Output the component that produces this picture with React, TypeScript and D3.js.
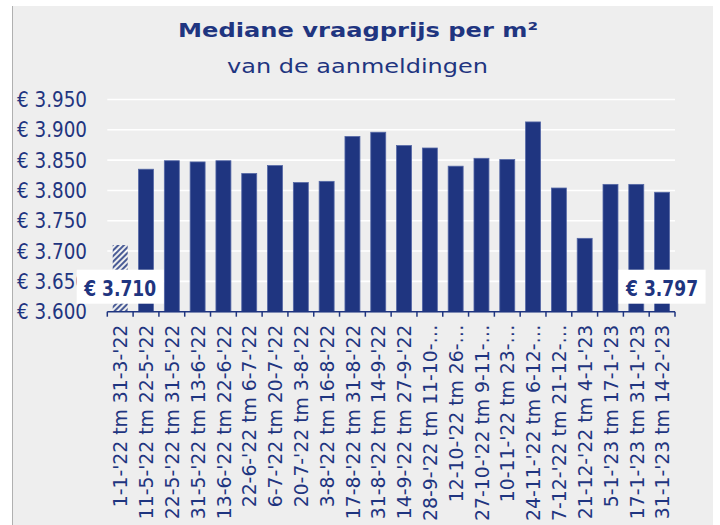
import * as d3 from 'd3';
import React from 'react';

// periodes (as-labels zoals in de grafiek, deels afgekapt)
const periods = [
  "1-1-'22 tm 31-3-'22",
  "11-5-'22 tm 22-5-'22",
  "22-5-'22 tm 31-5-'22",
  "31-5-'22 tm 13-6-'22",
  "13-6-'22 tm 22-6-'22",
  "22-6-'22 tm 6-7-'22",
  "6-7-'22 tm 20-7-'22",
  "20-7-'22 tm 3-8-'22",
  "3-8-'22 tm 16-8-'22",
  "17-8-'22 tm 31-8-'22",
  "31-8-'22 tm 14-9-'22",
  "14-9-'22 tm 27-9-'22",
  "28-9-'22 tm 11-10-…",
  "12-10-'22 tm 26-…",
  "27-10-'22 tm 9-11-…",
  "10-11-'22 tm 23-…",
  "24-11-'22 tm 6-12-…",
  "7-12-'22 tm 21-12-…",
  "21-12-'22 tm 4-1-'23",
  "5-1-'23 tm 17-1-'23",
  "17-1-'23 tm 31-1-'23",
  "31-1-'23 tm 14-2-'23",
];

// mediane vraagprijs per m2
const prices = [
  3710, 3835, 3849, 3847, 3849, 3828, 3841, 3813, 3815, 3889, 3896,
  3874, 3870, 3840, 3853, 3851, 3913, 3804, 3721, 3810, 3810, 3797,
];

// eerste periode is gearceerd (referentie)
const hatched = [0];

// labels bij eerste en laatste balk
const callouts = [
  { index: 0, text: '€ 3.710' },
  { index: 21, text: '€ 3.797' },
];

const yTicks = [3600, 3650, 3700, 3750, 3800, 3850, 3900, 3950];

const NAVY = '#1f3580';
const FONT = "'Century Gothic', 'DejaVu Sans', sans-serif";

const fmt = (v: number) => '€ ' + d3.format(',')(v).replace(',', '.');

export default function App() {
  const width = 720;
  const height = 525;

  const x = d3.scaleBand<string>()
    .domain(periods)
    .range([107.3, 675])
    .paddingInner(0.42)
    .paddingOuter(0.21);

  const y = d3.scaleLinear()
    .domain([3600, 3950])
    .range([311.7, 99.5]);

  const step = x.step();
  const x0 = x.range()[0];
  const boundaries = d3.range(periods.length + 1).map(i => x0 + i * step);

  return (
    <svg
      width={width}
      height={height}
      style={{ position: 'absolute', left: 0, top: 0, display: 'block' }}
      fontFamily={FONT}
    >
      <defs>
        <pattern id="hatch" patternUnits="userSpaceOnUse" width={4} height={4} patternTransform="rotate(45)">
          <line x1={1} y1={0} x2={1} y2={4} stroke={NAVY} strokeWidth={1.6} />
        </pattern>
      </defs>

      <rect x={0} y={0} width={width} height={height} fill="#ffffff" />
      <rect x={12} y={6} width={701} height={519} fill="#eeeeee" />
      <line x1={12.5} y1={6} x2={12.5} y2={525} stroke="#b0b0b0" strokeWidth={1} />

      {/* titel */}
      <text x={358} y={37.3} textAnchor="middle" fontWeight="bold" fontSize={20}
        fill={NAVY} textLength={360} lengthAdjust="spacingAndGlyphs">
        Mediane vraagprijs per m²
      </text>
      <text x={357.5} y={72.7} textAnchor="middle" fontSize={20}
        fill={NAVY} textLength={261} lengthAdjust="spacingAndGlyphs">
        van de aanmeldingen
      </text>

      {/* rasterlijnen */}
      {yTicks.filter(t => t > 3600).map(t => (
        <line key={t} x1={x0} x2={675} y1={y(t)} y2={y(t)} stroke="#ffffff" strokeWidth={1.6} />
      ))}

      {/* y-as labels */}
      {yTicks.map(t => (
        <text key={t} x={87} y={y(t)} dy="0.36em" textAnchor="end" fontSize={21}
          fill={NAVY} textLength={70} lengthAdjust="spacingAndGlyphs">
          {fmt(t)}
        </text>
      ))}

      {/* balken */}
      {prices.map((v, i) => {
        const isHatched = hatched.includes(i);
        return (
          <rect
            key={i}
            x={x(periods[i])}
            y={y(v)}
            width={x.bandwidth()}
            height={y(3600) - y(v)}
            fill={isHatched ? 'url(#hatch)' : NAVY}
            stroke={isHatched ? 'none' : '#5568a6'}
            strokeWidth={0.8}
          />
        );
      })}

      {/* x-as */}
      <line x1={x0} x2={675} y1={y(3600)} y2={y(3600)} stroke={NAVY} strokeWidth={1.5} />
      {boundaries.map((bx, i) => (
        <line key={i} x1={bx} x2={bx} y1={y(3600)} y2={y(3600) + 5} stroke={NAVY} strokeWidth={1.5} />
      ))}

      {periods.map(p => {
        const cx = (x(p) as number) + x.bandwidth() / 2;
        return (
          <text
            key={p}
            transform={`translate(${cx},${y(3600) + 13}) rotate(-90) scale(0.94,1)`}
            textAnchor="end"
            dy="0.36em"
            fontSize={20}
            fill={NAVY}
          >
            {p}
          </text>
        );
      })}

      {/* labels */}
      {callouts.map(c => {
        const cx = (x(periods[c.index]) as number) + x.bandwidth() / 2;
        return (
          <g key={c.index}>
            <rect x={cx - 43.5} y={y(3600) - 42} width={87} height={34} fill="#ffffff" />
            <text x={cx} y={y(3600) - 16} textAnchor="middle" fontWeight="bold" fontSize={21}
              fill={NAVY} textLength={72} lengthAdjust="spacingAndGlyphs">
              {c.text}
            </text>
          </g>
        );
      })}
    </svg>
  );
}
